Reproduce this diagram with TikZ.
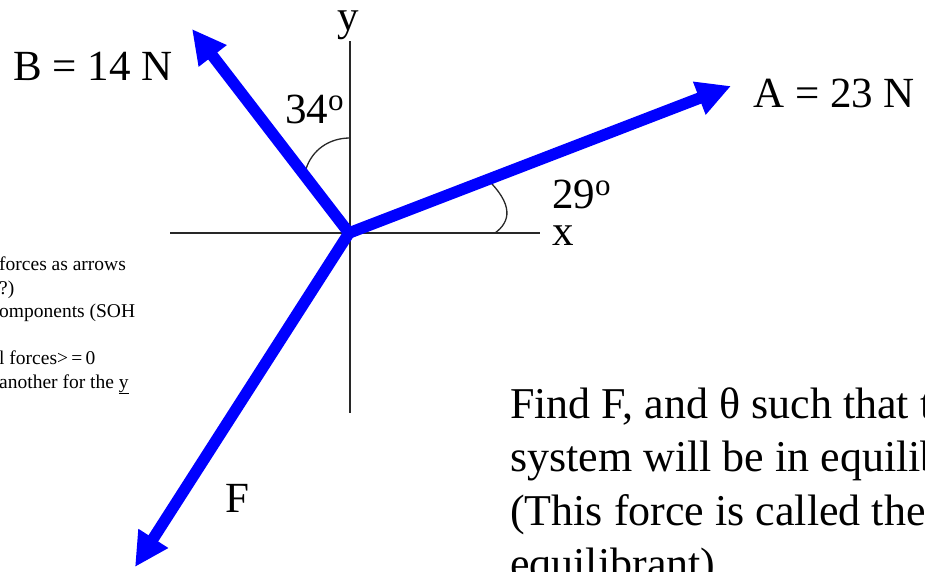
\documentclass[tikz,border=0pt]{standalone}
\usepackage{fontspec}
\setmainfont{Liberation Serif}
\usetikzlibrary{arrows.meta}
\definecolor{forcecol}{RGB}{0,0,255}
\definecolor{axiscol}{RGB}{40,40,40}
\newcommand{\degsign}{{\fontsize{31}{31}\selectfont\raisebox{13pt}{o}}}

\begin{document}
\begin{tikzpicture}[x=1pt, y=-1pt,
  axis/.style={line width=1.3pt, axiscol},
  force/.style={line width=11.5pt, forcecol, line cap=round,
                -{Triangle[length=34pt, width=33pt]}},
  anglemark/.style={line width=1.3pt, axiscol},
  lbl/.style={inner sep=0pt, anchor=base west, font=\fontsize{43}{50}\selectfont},
  note/.style={inner sep=0pt, anchor=base west, align=left}
]
\useasboundingbox (0,0) rectangle (925,571);
\clip (0,0) rectangle (925,571);

% Axes
\coordinate (O) at (349,233);
\coordinate (xl) at (170,233);
\coordinate (xr) at (540,233);
\coordinate (yt) at (350,41);
\coordinate (yb) at (350,413);
\draw[axis] (xl) -- (xr);
\draw[axis] (yt) -- (yb);

% Angle marks
\draw[anglemark] (350,138) .. controls (329,138) and (312,150) .. (306,169);
\draw[anglemark] (485,177) .. controls (515,205) and (510,222) .. (495,233);

% Forces
\coordinate (tipA) at (731,86);
\coordinate (tipB) at (192,29);
\coordinate (tipF) at (135,567);
\foreach \t in {tipA, tipB, tipF}
  \draw[force] (O) -- (\t);

% Labels
\node[lbl, text height=21pt, text depth=9pt] (laby) at (337,30) {y};
\node[lbl, text height=20pt] (labx) at (552,245) {x};
\node[lbl] (ang34) at (285,123) {34\degsign};
\node[lbl, text depth=0pt] (ang29) at (552,208) {29\degsign};
\node[lbl] (labA) at (753,107) {A = 23 N};
\node[lbl] (labB) at (13,80) {B = 14 N};
\node[lbl] (labF) at (225,512) {F};

% Task text (cut off by the frame)
\node[note, font=\fontsize{44}{53.5}\selectfont] (task) at (510,578.5)
  {Find F, and θ such that the\\
   system will be in equilibrium.\\
   (This force is called the\\
   equilibrant)};

% Notes on the left (cut off by the frame)
\node[note, font=\fontsize{19.5}{23.5}\selectfont] (notes) at (-1,388)
  {forces as arrows\\
   ?)\\
   omponents (SOH\\[23.5pt]
   l forces>\,=\,0\\
   another for the \underline{y}};
\end{tikzpicture}
\end{document}
